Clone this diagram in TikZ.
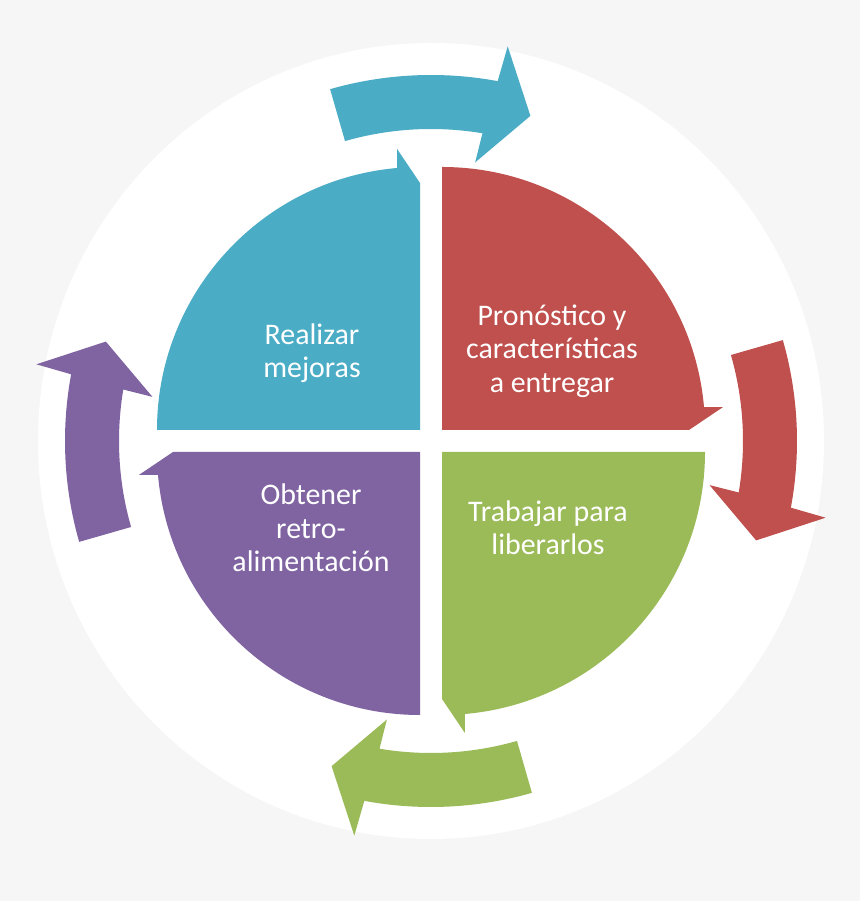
\documentclass[tikz,border=0pt]{standalone}
\usepackage{xcolor}
\usepackage{fontspec}
\setmainfont{Carlito}
\usetikzlibrary{calc}
\definecolor{azul}{HTML}{4BACC6}
\definecolor{rojo}{HTML}{C0504D}
\definecolor{verde}{HTML}{9BBB59}
\definecolor{morado}{HTML}{8064A2}
\definecolor{fondo}{HTML}{F6F6F6}

\begin{document}
\begin{tikzpicture}[x=0.02cm, y=0.02cm,
    quarter/.pic={\fill (-11,11) -- ++(-263,0) arc[start angle=180, end angle=95, radius=263]
      -- ++(0,19) -- (-11,258) -- cycle;},
    cyclearrow/.pic={\fill (106:312) -- (106:366) arc[start angle=106, end angle=79.5, radius=366]
      -- (79:402) -- (73:340) -- (81:282) -- (80.5:312) arc[start angle=80.5, end angle=106, radius=312] -- cycle;},
    txt/.style={text=white, align=center, inner sep=0pt, font=\fontsize{17}{19}\selectfont}]
      \fill[fondo] (-431,-460) rectangle (429,441);
      \fill[white] (0,0) ellipse[x radius=393, y radius=398];
      \coordinate (O) at (0,0);

      \pic[fill=azul] at (O) {quarter};
      \pic[fill=rojo, rotate=-90] at (O) {quarter};
      \pic[fill=verde, rotate=180] at (O) {quarter};
      \pic[fill=morado, rotate=90] at (O) {quarter};

      \pic[fill=azul] at (O) {cyclearrow};
      \pic[fill=rojo, rotate=-90] at (O) {cyclearrow};
      \pic[fill=verde, rotate=180] at (O) {cyclearrow};
      \pic[fill=morado, rotate=90] at (O) {cyclearrow};

      \node[txt] (mejoras) at (-119,88) {Realizar\\mejoras};
      \node[txt] (pronostico) at (121,90) {Pronóstico y\\características\\a entregar};
      \node[txt] (liberar) at (117,-87) {Trabajar para\\liberarlos};
      \node[txt] (retro) at (-120,-87) {Obtener\\retro-\\alimentación};
    \end{tikzpicture}
\end{document}
